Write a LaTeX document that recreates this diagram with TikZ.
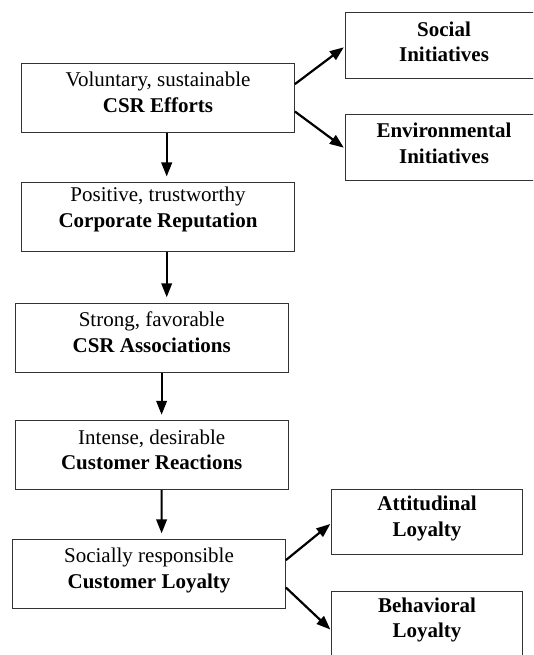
\documentclass[tikz,border=0pt]{standalone}
\usepackage{fontspec}
\setmainfont{Liberation Serif}
\usepackage{tikz}
\usetikzlibrary{arrows.meta}

% empty strut that pushes the text up inside its box
\newcommand{\pad}[1]{\rule[-#1]{0pt}{#1}}

\begin{document}
\begin{tikzpicture}
[
x=1pt, y=-1pt,
every node/.style={
	draw=black!80,
	line width=0.8pt,
	rectangle,
	inner sep=0pt,
	align=center,
	font=\fontsize{21}{25.5}\selectfont},
mainBox/.style={
	minimum width=273pt,
	minimum height=69pt},
sideBox/.style={
	minimum width=198pt,
	minimum height=65.5pt},
flowArr/.style={
	-{Triangle[length=14pt,width=10.5pt]},
	line width=2.2pt,
	shorten >=1pt},
downArr/.style={
	flowArr,
	shorten >=5.5pt}
]
\useasboundingbox (0,0) rectangle (533,655);
\clip (0,0) rectangle (533,655);

%main column
\node [mainBox] (eff) at (158,97.8) {Voluntary, sustainable\\\textbf{CSR Efforts}\pad{11pt}};
\node [mainBox] (rep) at (158,216.9) {Positive, trustworthy\\\textbf{Corporate Reputation}\pad{19pt}};
\node [mainBox] (ass) at (151.7,337.7) {Strong, favorable\\\textbf{CSR Associations}\pad{11pt}};
\node [mainBox] (rea) at (151.7,455.2) {Intense, desirable\\\textbf{Customer Reactions}\pad{11pt}};
\node [mainBox] (loy) at (149,573.8) {Socially responsible\\\textbf{Customer Loyalty}\pad{11pt}};

%initiatives (run off the right edge)
\node [sideBox] (soc) at (444,45.5) {\textbf{Social}\\\textbf{Initiatives}\pad{8pt}};
\node [sideBox] (env) at (444,147.2) {\textbf{Environmental}\\\textbf{Initiatives}\pad{8pt}};

%loyalty types
\node [sideBox, minimum width=191pt] (att) at (427,521.7) {\textbf{Attitudinal}\\\textbf{Loyalty}\pad{11pt}};
\node [sideBox, minimum width=191pt, minimum height=70pt] (beh) at (427,626.7) {\textbf{Behavioral}\\\textbf{Loyalty}\pad{17.5pt}};

%down the main column
\draw [downArr] ([xshift=8.7pt]eff.south) -- ([xshift=8.7pt]rep.north);
\draw [downArr] ([xshift=8.7pt]rep.south) -- ([xshift=15pt]ass.north);
\draw [downArr] ([xshift=9.9pt]ass.south) -- ([xshift=9.9pt]rea.north);
\draw [downArr] ([xshift=9.9pt]rea.south) -- ([xshift=12.6pt]loy.north);

%split to the side boxes
\draw [flowArr] ([yshift=13.7pt]eff.east) -- ([yshift=-1.2pt]soc.west);
\draw [flowArr] ([yshift=-13.7pt]eff.east) -- ([yshift=-1.1pt]env.west);
\draw [flowArr] ([yshift=13.7pt]loy.east) -- ([yshift=-1.6pt]att.west);
\draw [flowArr] ([yshift=-13.7pt]loy.east) -- ([yshift=-3.5pt]beh.west);

\end{tikzpicture}
\end{document}
